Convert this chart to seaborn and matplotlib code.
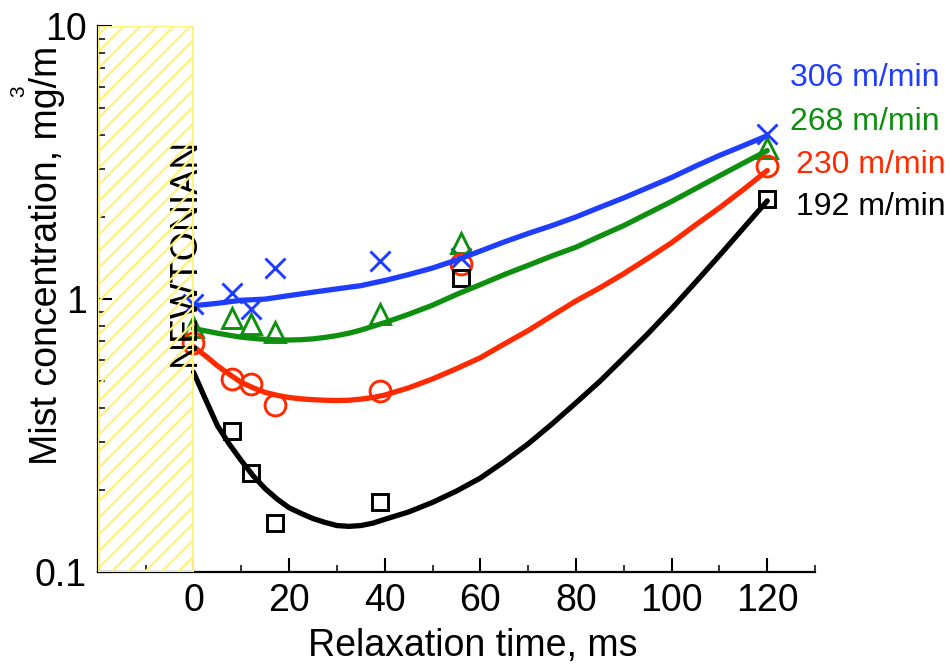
import matplotlib
matplotlib.use("Agg")
import matplotlib.pyplot as plt
import seaborn as sns
import pandas as pd
from matplotlib.patches import Rectangle
from matplotlib.ticker import FixedLocator, LogLocator, NullFormatter

sns.set_theme(style="white")
plt.rcParams['font.family'] = ['Liberation Sans', 'DejaVu Sans']
plt.rcParams['hatch.linewidth'] = 1.6

# ---- data ----
speeds = ["306 m/min", "268 m/min", "230 m/min", "192 m/min"]
colors = ["#1f3dff", "#0f8f0f", "#ff2a00", "#000000"]
markers = ["x", "^", "o", "s"]

x_306 = [0, 8, 12, 17, 39, 56, 120]
y_306 = [0.96, 1.05, 0.92, 1.30, 1.38, 1.42, 4.03]
x_268 = [0, 8, 12, 17, 39, 56, 120]
y_268 = [0.79, 0.85, 0.81, 0.76, 0.885, 1.60, 3.58]
x_230 = [0, 8, 12, 17, 39, 56, 120]
y_230 = [0.69, 0.51, 0.49, 0.41, 0.46, 1.35, 3.08]
x_192 = [8, 12, 17, 39, 56, 120]
y_192 = [0.33, 0.23, 0.151, 0.18, 1.19, 2.33]

curve_x = [0, 2.5, 5, 7.5, 10, 12.5, 15, 17.5, 20, 22.5, 25, 27.5, 30, 32.5,
           35, 37.5, 40, 45, 50, 55, 60, 65, 70, 75, 80, 85, 90, 95, 100,
           105, 110, 115, 120]
curve_306 = [0.946, 0.955, 0.965, 0.978, 0.99, 0.995, 1.0, 1.015, 1.03, 1.045,
             1.06, 1.075, 1.09, 1.105, 1.12, 1.145, 1.17, 1.23, 1.30, 1.39,
             1.50, 1.62, 1.74, 1.86, 2.0, 2.17, 2.35, 2.56, 2.79, 3.07, 3.36,
             3.65, 3.97]
curve_268 = [0.78, 0.765, 0.75, 0.737, 0.725, 0.718, 0.712, 0.709, 0.708, 0.71,
             0.715, 0.724, 0.735, 0.75, 0.77, 0.795, 0.82, 0.88, 0.95, 1.04,
             1.13, 1.23, 1.33, 1.44, 1.55, 1.70, 1.86, 2.06, 2.28, 2.54, 2.83,
             3.15, 3.50]
curve_230 = [0.67, 0.62, 0.57, 0.53, 0.495, 0.473, 0.455, 0.444, 0.436, 0.431,
             0.428, 0.426, 0.425, 0.426, 0.43, 0.436, 0.445, 0.473, 0.51, 0.556,
             0.61, 0.685, 0.767, 0.87, 0.985, 1.10, 1.24, 1.41, 1.61, 1.87,
             2.16, 2.52, 2.96]
curve_192 = [0.54, 0.43, 0.344, 0.294, 0.256, 0.225, 0.202, 0.185, 0.172, 0.164,
             0.157, 0.152, 0.148, 0.147, 0.148, 0.151, 0.156, 0.166, 0.18, 0.198,
             0.221, 0.254, 0.295, 0.349, 0.417, 0.50, 0.61, 0.746, 0.923, 1.153,
             1.445, 1.82, 2.29]

x_major = [0, 20, 40, 60, 80, 100, 120]
x_minor = [-10, 10, 30, 50, 70, 90, 110, 130]
y_major = [0.1, 1, 10]
y_labels = ["0.1", "1", "10"]

points = [(x_306, y_306), (x_268, y_268), (x_230, y_230), (x_192, y_192)]
curves = [curve_306, curve_268, curve_230, curve_192]

# ---- figure ----
fig = plt.figure(figsize=(9.5, 6.71), dpi=100)
ax = fig.add_axes([0.103, 0.1475, 0.755, 0.8135])
ax.set_yscale("log")

msizes = [15, 15, 15, 11.5]
for (px, py), cy, c, m, ms in zip(points, curves, colors, markers, msizes):
    dfp = pd.DataFrame({"x": px, "y": py})
    sns.lineplot(data=dfp, x="x", y="y", ax=ax, linestyle="none", marker=m,
                 markersize=ms, markerfacecolor="none", markeredgecolor=c,
                 markeredgewidth=2.1, color=c, zorder=3)
    dfc = pd.DataFrame({"x": curve_x, "y": cy})
    sns.lineplot(data=dfc, x="x", y="y", ax=ax, color=c, linewidth=3.8,
                 zorder=4, solid_capstyle="round", solid_joinstyle="round")

ax.set_xlim(-20, 130)
ax.set_ylim(0.1, 10)

# Newtonian region
ax.text(2.0, 1.49, "NEWTONIAN", rotation=90, ha="right", va="center",
        fontsize=27, color="black", zorder=5)
ax.add_patch(Rectangle((-20, 0.1), 20, 9.9, fill=False, hatch="//",
                       edgecolor="#fff27a", linewidth=1.4, zorder=10))

# axes styling
for s in ["top", "right"]:
    ax.spines[s].set_visible(False)
for s in ["left", "bottom"]:
    ax.spines[s].set_linewidth(1.6)
    ax.spines[s].set_color("black")

ax.xaxis.set_major_locator(FixedLocator(x_major))
ax.xaxis.set_minor_locator(FixedLocator(x_minor))
ax.set_xticklabels([str(v) for v in x_major])
ax.yaxis.set_major_locator(FixedLocator(y_major))
ax.set_yticklabels(y_labels)
ax.yaxis.set_minor_locator(LogLocator(base=10, subs=range(2, 10)))
ax.yaxis.set_minor_formatter(NullFormatter())
ax.tick_params(which="major", direction="in", length=10, width=1.5,
               labelsize=27, pad=8, bottom=True, left=True, colors="black")
ax.tick_params(which="minor", direction="in", length=5, width=1.3,
               bottom=True, left=True)

ax.set_xlabel("Relaxation time, ms", fontsize=27, color="black")
ax.set_ylabel("Mist concentration, mg/m", fontsize=27, color="black")
ax.xaxis.set_label_coords(0.523, -0.103)
ax.yaxis.set_label_coords(-0.046, 0.58)
fig.text(19 / 950, 1 - 91 / 671, "3", rotation=90, fontsize=15,
         ha="center", va="center", color="black")

# series labels
label_pos = [(790, 78), (790, 122), (796, 165), (796, 207)]
for (lx, ly), t, c in zip(label_pos, speeds, colors):
    fig.text(lx / 950, 1 - ly / 671, t, fontsize=23, color=c,
             ha="left", va="center")

fig.savefig("out.png", dpi=100)
